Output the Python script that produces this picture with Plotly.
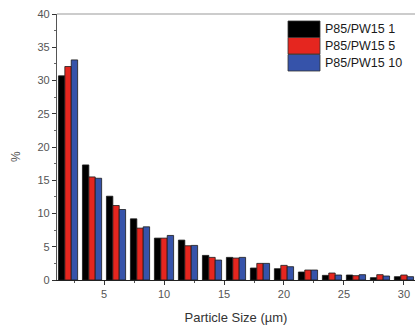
import plotly.graph_objects as go

sizes = [2, 4, 6, 8, 10, 12, 14, 16, 18, 20, 22, 24, 26, 28, 30]
series_names = ["P85/PW15 1", "P85/PW15 5", "P85/PW15 10"]
vals_1 = [30.7, 17.3, 12.6, 9.2, 6.3, 6.0, 3.7, 3.4, 1.8, 1.7, 1.2, 0.7, 0.75, 0.35, 0.5]
vals_5 = [32.1, 15.5, 11.2, 7.8, 6.3, 5.15, 3.4, 3.3, 2.5, 2.2, 1.5, 1.05, 0.65, 0.8, 0.75]
vals_10 = [33.1, 15.3, 10.6, 8.0, 6.7, 5.2, 3.0, 3.4, 2.5, 2.0, 1.5, 0.75, 0.8, 0.6, 0.5]
colors = ["#000000", "#e5261f", "#3653aa"]
x_ticks = [5, 10, 15, 20, 25, 30]
y_ticks = [0, 5, 10, 15, 20, 25, 30, 35, 40]

fig = go.Figure()
for name, vals, col in zip(series_names, [vals_1, vals_5, vals_10], colors):
    fig.add_trace(go.Bar(
        x=sizes, y=vals, name=name,
        marker=dict(color=col, line=dict(color="#1a1a1a", width=0.8)),
        showlegend=False,
    ))

font_family = "Liberation Sans, Arial, sans-serif"

# manual legend with large swatches (like the original)
leg_x0, leg_x1 = 288, 320
row_tops = [21, 37.5, 54.5]
row_h = 16.5
W, H = 415, 328
ml, mr, mt, mb = 57, 0, 14, 48
pw, ph = W - ml - mr, H - mt - mb
shapes = []
annotations = []
for name, col, top in zip(series_names, colors, row_tops):
    shapes.append(dict(
        type="rect", xref="paper", yref="paper",
        x0=(leg_x0 - ml) / pw, x1=(leg_x1 - ml) / pw,
        y0=1 - (top + row_h - mt) / ph, y1=1 - (top - mt) / ph,
        fillcolor=col, line=dict(color="#333333", width=0.8),
    ))
    annotations.append(dict(
        xref="paper", yref="paper",
        x=(leg_x1 + 3 - ml) / pw, y=1 - (top + row_h / 2 - mt) / ph,
        text=name, showarrow=False, xanchor="left", yanchor="middle",
        font=dict(family=font_family, size=12.5, color="#1a1a1a"),
    ))
# y-axis title placed like the original (slightly below centre)
annotations.append(dict(
    xref="paper", yref="paper",
    x=(16 - ml) / pw, y=1 - (157 - mt) / ph,
    text="%", textangle=-90, showarrow=False, xanchor="center", yanchor="middle",
    font=dict(family=font_family, size=12, color="#555555"),
))
# top frame line
shapes.append(dict(type="line", xref="paper", yref="paper", x0=0, x1=1, y0=1, y1=1,
                   line=dict(color="#9a9a9a", width=1.2)))

fig.update_layout(
    width=W, height=H,
    margin=dict(l=ml, r=mr, t=mt, b=mb),
    paper_bgcolor="white", plot_bgcolor="white",
    barmode="group", bargap=0.2, bargroupgap=0,
    font=dict(family=font_family, color="#555555"),
    shapes=shapes, annotations=annotations,
    xaxis=dict(
        range=[1.08, 30.92], tickvals=x_ticks,
        ticks="outside", ticklen=4, tickwidth=1, tickcolor="#333333",
        showline=True, linecolor="#222222", linewidth=1.3,
        showgrid=False, zeroline=False,
        tickfont=dict(size=11, color="#555555"),
        minor=dict(tickvals=[2.5, 7.5, 12.5, 17.5, 22.5, 27.5], ticks="outside",
                   ticklen=2, tickcolor="#555555"),
        title=dict(text="Particle Size (µm)", font=dict(size=13, color="#333333"), standoff=13),
    ),
    yaxis=dict(
        range=[0, 40], tickvals=y_ticks,
        ticks="outside", ticklen=4, tickwidth=1, tickcolor="#333333",
        showline=True, linecolor="#555555", linewidth=1.2,
        showgrid=False, zeroline=False,
        tickfont=dict(size=11, color="#555555"),
        minor=dict(tickvals=[2.5, 7.5, 12.5, 17.5, 22.5, 27.5, 32.5, 37.5], ticks="outside",
                   ticklen=2, tickcolor="#666666"),
    ),
)

fig.write_html("out.html")
